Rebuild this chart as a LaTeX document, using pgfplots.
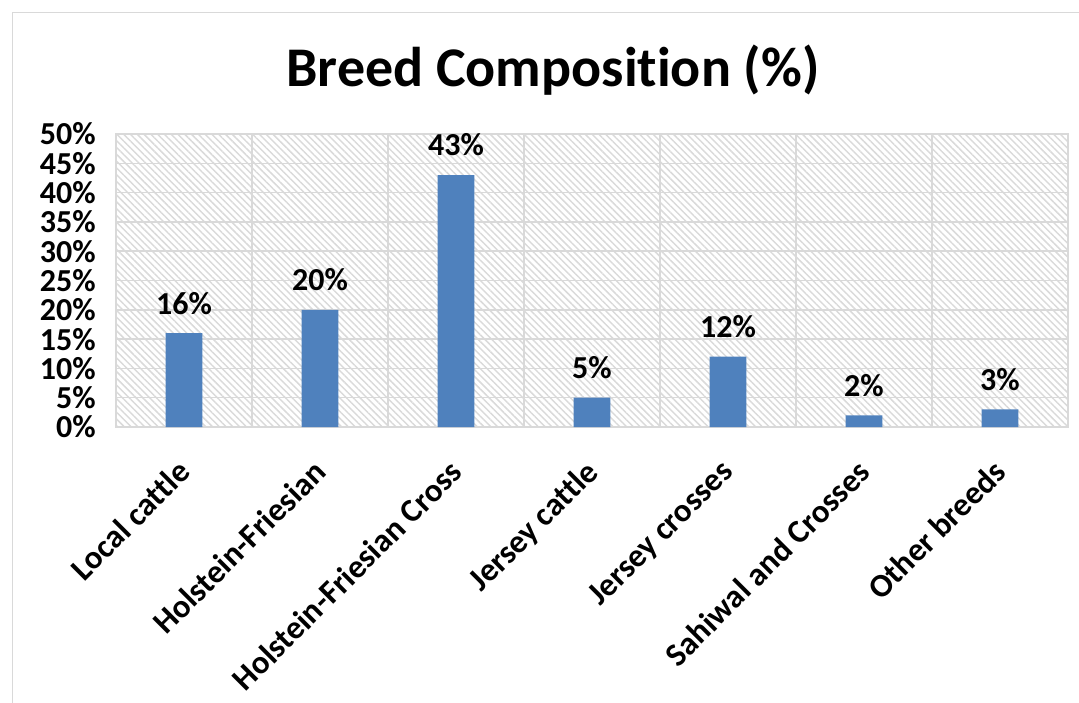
\documentclass[border=0pt]{standalone}
\usepackage{pgfplots}
\pgfplotsset{compat=1.18}
\usepackage{fontspec}
\setmainfont{Carlito}[Ligatures=NoCommon]
\usetikzlibrary{patterns.meta}

\definecolor{barblue}{HTML}{4F81BD}
\definecolor{gridgray}{HTML}{D9D9D9}
\definecolor{hatchgray}{HTML}{DADADA}

% breed shares in percent
\pgfplotstableread{
x share
0 16
1 20
2 43
3 5
4 12
5 2
6 3
}\breeds

\begin{document}
\begin{tikzpicture}
% page frame: 1px = 0.75pt
\path[use as bounding box] (0pt,0pt) rectangle (809.25pt,-527.25pt);
\draw[gridgray, line width=1.2pt] (9.4pt,-540pt) -- (9.4pt,-9.4pt) -- (820pt,-9.4pt);

\node[anchor=base, font=\fontsize{42}{50}\selectfont\bfseries] at (414.75pt,-64.5pt) {Breed Composition (\%)};

\begin{axis}[
  at={(87pt,-320.25pt)}, anchor=south west,
  scale only axis, width=714pt, height=219.75pt,
  xmin=-0.5, xmax=6.5, ymin=0, ymax=50,
  ybar, bar width=0.27,
  font=\fontsize{24}{29}\selectfont\bfseries,
  xtick={0,...,6},
  xticklabels={Local cattle, Holstein-Friesian, Holstein-Friesian Cross, Jersey cattle, Jersey crosses, Sahiwal and Crosses, Other breeds},
  xticklabel style={xshift=-6.2pt, yshift=-20.2pt, rotate=45, anchor=north east, inner sep=2pt, font=\fontsize{24.6}{29}\selectfont\bfseries},
  minor xtick={-0.5,0.5,...,6.5},
  ytick={0,5,...,50},
  yticklabels={0\%,5\%,10\%,15\%,20\%,25\%,30\%,35\%,40\%,45\%,50\%},
  yticklabel style={inner sep=0pt, xshift=-15pt},
  major tick length=0pt, minor tick length=0pt,
  xminorgrids=true, xmajorgrids=false, ymajorgrids=true,
  grid style={gridgray, line width=1.1pt},
  minor grid style={gridgray, line width=1.1pt},
  axis line style={gridgray, line width=1.1pt},
  axis background/.style={pattern={Lines[angle=-45,distance=3.6pt,line width=1.1pt]}, pattern color=hatchgray},
  nodes near coords={\pgfmathprintnumber[assume math mode=true]{\pgfplotspointmeta}\%},
  nodes near coords style={anchor=south, inner sep=0pt, yshift=14pt, font=\fontsize{24}{29}\selectfont\bfseries, text=black},
]
\addplot[fill=barblue, draw=none] table[x=x, y=share] {\breeds};
\end{axis}
\end{tikzpicture}
\end{document}
